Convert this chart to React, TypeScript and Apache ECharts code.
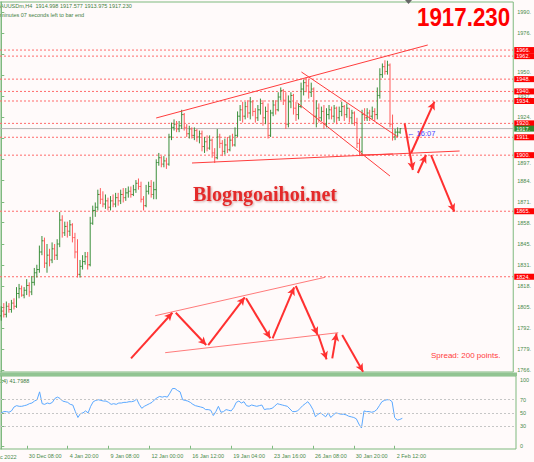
import React, { useEffect, useRef } from 'react';
import * as echarts from 'echarts';

// ---- OHLC bars (XAUUSD H4), index 0..157 ----
const opens = [
  1800, 1803, 1801, 1806, 1804, 1808, 1806, 1814, 1817, 1813,
  1816, 1819, 1815, 1821, 1827, 1829, 1840, 1847, 1833, 1838,
  1835, 1842, 1838, 1845, 1860, 1852, 1856, 1853, 1857, 1849,
  1840, 1826, 1831, 1834, 1837, 1832, 1858, 1866, 1868, 1876,
  1873, 1870, 1872, 1868, 1872, 1870, 1874, 1872, 1876, 1874,
  1877, 1878, 1876, 1879, 1883, 1881, 1873, 1869, 1878, 1881,
  1876, 1879, 1896, 1899, 1895, 1897, 1895, 1912, 1918, 1920,
  1917, 1919, 1926, 1918, 1914, 1917, 1913, 1916, 1912, 1914,
  1906, 1909, 1905, 1910, 1902, 1899, 1912, 1908, 1903, 1907,
  1904, 1910, 1907, 1913, 1925, 1929, 1925, 1931, 1927, 1934,
  1928, 1924, 1929, 1933, 1924, 1928, 1913, 1927, 1932, 1929,
  1937, 1941, 1935, 1920, 1934, 1938, 1930, 1926, 1931, 1942,
  1946, 1944, 1940, 1942, 1925, 1930, 1924, 1928, 1920, 1926,
  1929, 1925, 1930, 1924, 1928, 1931, 1926, 1930, 1924, 1927,
  1921, 1908, 1903, 1926, 1924, 1927, 1925, 1928, 1926, 1938,
  1951, 1956, 1953, 1957, 1920, 1912, 1915, 1914.998,
];
const highs = [
  1806, 1808, 1809, 1808, 1810, 1811, 1818, 1820, 1819, 1818,
  1823, 1821, 1825, 1830, 1832, 1844, 1850, 1849, 1845, 1842,
  1846, 1845, 1848, 1865, 1863, 1859, 1859, 1860, 1858, 1852,
  1848, 1835, 1838, 1840, 1840, 1862, 1869, 1871, 1879, 1880,
  1878, 1876, 1874, 1875, 1876, 1877, 1877, 1879, 1880, 1880,
  1881, 1881, 1882, 1885, 1886, 1884, 1875, 1882, 1884, 1885,
  1884, 1898, 1902, 1900, 1900, 1899, 1914, 1921, 1923, 1922,
  1922, 1929, 1927, 1920, 1919, 1918, 1918, 1917, 1916, 1916,
  1912, 1913, 1913, 1911, 1905, 1917, 1914, 1910, 1911, 1912,
  1913, 1914, 1918, 1928, 1932, 1934, 1934, 1935, 1937, 1935,
  1930, 1932, 1936, 1935, 1931, 1933, 1929, 1935, 1935, 1940,
  1943, 1942, 1940, 1938, 1940, 1939, 1934, 1933, 1946, 1948,
  1949.5, 1948, 1946, 1943, 1935, 1933, 1931, 1932, 1930, 1932,
  1931, 1932, 1931, 1931, 1934, 1932, 1933, 1930, 1929, 1928,
  1924, 1911, 1929, 1930, 1930, 1929, 1931, 1930, 1943, 1955,
  1958, 1960, 1959.7, 1958, 1926, 1917, 1918, 1917.577,
];
const lows = [
  1797, 1799, 1799, 1802, 1802, 1804, 1805, 1811, 1812, 1811,
  1813, 1812, 1813, 1819, 1824, 1827, 1838, 1830, 1827, 1831,
  1833, 1835, 1835, 1843, 1849, 1850, 1849, 1850, 1846, 1836,
  1824, 1824, 1829, 1832, 1829, 1831, 1857, 1862, 1866, 1870,
  1868, 1867, 1866, 1866, 1868, 1868, 1869, 1870, 1871, 1872,
  1874, 1874, 1875, 1877, 1879, 1871, 1866, 1868, 1876, 1874,
  1873, 1873, 1894, 1893, 1893, 1892, 1894, 1910, 1916, 1915,
  1915, 1917, 1916, 1912, 1911, 1911, 1910, 1909, 1908, 1903,
  1902, 1903, 1904, 1899, 1895.7, 1898, 1905, 1900, 1901, 1902,
  1903, 1906, 1906, 1912, 1922, 1921, 1923, 1924, 1923, 1925,
  1921, 1922, 1926, 1919, 1920, 1911, 1912, 1925, 1926, 1928,
  1935, 1932, 1917, 1918, 1930, 1926, 1922, 1923, 1930, 1938,
  1940, 1936, 1937, 1920, 1918, 1921, 1922, 1917, 1918, 1923,
  1923, 1921, 1920, 1922, 1925, 1922, 1924, 1921, 1920, 1919,
  1905, 1900, 1900, 1922, 1922, 1922, 1923, 1922, 1923, 1936,
  1949, 1951, 1951, 1918, 1909.7, 1910, 1912, 1913.975,
];
const closes = [
  1803, 1801, 1806, 1804, 1808, 1806, 1814, 1817, 1813, 1816,
  1819, 1815, 1821, 1827, 1829, 1840, 1847, 1833, 1838, 1835,
  1842, 1838, 1845, 1860, 1852, 1856, 1853, 1857, 1849, 1840,
  1826, 1831, 1834, 1837, 1832, 1858, 1866, 1868, 1876, 1873,
  1870, 1872, 1868, 1872, 1870, 1874, 1872, 1876, 1874, 1877,
  1878, 1876, 1879, 1883, 1881, 1873, 1869, 1878, 1881, 1876,
  1879, 1896, 1899, 1895, 1897, 1895, 1912, 1918, 1920, 1917,
  1919, 1926, 1918, 1914, 1917, 1913, 1916, 1912, 1914, 1906,
  1909, 1905, 1910, 1902, 1899, 1912, 1908, 1903, 1907, 1904,
  1910, 1907, 1913, 1925, 1929, 1925, 1931, 1927, 1934, 1928,
  1924, 1929, 1933, 1924, 1928, 1913, 1927, 1932, 1929, 1937,
  1941, 1935, 1920, 1934, 1938, 1930, 1926, 1931, 1942, 1946,
  1944, 1940, 1942, 1925, 1930, 1924, 1928, 1920, 1926, 1929,
  1925, 1930, 1924, 1928, 1931, 1926, 1930, 1924, 1927, 1921,
  1908, 1903, 1926, 1924, 1927, 1925, 1928, 1926, 1938, 1951,
  1956, 1953, 1957, 1920, 1912, 1915, 1915, 1917.23,
];

// ---- RSI(14) ----
const rsiValues = [
  50, 52, 52, 51, 53, 59, 61, 60, 60, 61,
  62, 64, 65, 68, 70, 82, 64, 63, 65, 64,
  66, 72, 74, 72, 68, 67, 66, 63, 62, 52,
  43, 49, 50, 53, 50, 60, 67, 69, 70, 69,
  68, 68, 66, 63, 64, 63, 65, 65, 66, 66,
  67, 67, 68, 71, 63, 57, 60, 62, 64, 66,
  70, 73, 75, 74, 75, 74, 80, 87, 87, 84,
  82, 70, 69, 68, 66, 63, 61, 60, 59, 58,
  55, 55, 54, 46, 52, 60, 51, 52, 55, 54,
  53, 58, 66, 68, 65, 67, 61, 60, 62, 61,
  60, 61, 62, 55, 56, 56, 57, 60, 64, 63,
  62, 61, 60, 56, 52, 52, 53, 57, 61, 64,
  67, 62, 55, 44, 48, 50, 47, 44, 50, 43,
  47, 50, 49, 48, 48, 47, 45, 44, 43, 41,
  33, 27, 53, 52, 52, 51, 52, 55, 61, 67,
  69, 70, 70, 67, 43, 39, 40, 41.8,
];

// ---- axes ----
const priceTicks = [
  1766.0, 1779.2, 1792.4, 1805.5, 1818.7, 1831.9, 1845.1, 1858.3, 1871.4,
  1884.6, 1897.8, 1911.0, 1924.2, 1937.4, 1950.5, 1963.7, 1976.9, 1990.1,
];
// tick labels left visible (1911 and 1963 sit fully under the red level tags)
const priceTickLabels = [
  1766.0, 1779.2, 1792.4, 1805.5, 1818.7, 1831.9, 1845.1, 1858.3, 1871.4,
  1884.6, 1897.8, 1924.2, 1937.4, 1950.5, 1976.9, 1990.1,
];
// labels that peek out above / below a neighbouring level tag
const tickLabelsNudgedUp = [1950.5];
const tickLabelsNudgedDown = [1897.8];
const rsiTicks = [0, 30, 50, 70, 100];
const rsiLevels = [30, 50, 70];
const dateTickIdx = [10, 26, 42, 58, 74, 90, 106, 122, 138, 154];
const dateLabels = [
  '30 Dec 08:00', '4 Jan 20:00', '9 Jan 08:00', '12 Jan 00:00', '16 Jan 12:00',
  '19 Jan 04:00', '23 Jan 16:00', '26 Jan 08:00', '30 Jan 20:00', '2 Feb 12:00',
];

// ---- horizontal levels ----
const levelPrices = [1966.4, 1962.6, 1948.2, 1940.5, 1934.5, 1920.5, 1911.8, 1900.6, 1865.5, 1824.5];
const levelLabels = ['1966.', '1962.', '1948.', '1940.', '1934.', '1920.', '1911.', '1900.', '1865.', '1824.'];
const currentPrice = 1917.23;
const currentLabel = '1917.';

// ---- drawn objects, in [bar index, price] ----
const trendLines = [
  [[60.97, 1923.87], [167.86, 1969.56]],
  [[75.07, 1895.7], [180.39, 1903.21]],
  [[141.24, 1900.7], [154.16, 1901.33]],
  [[118.14, 1952.66], [156.12, 1911.97]],
  [[116.57, 1933.26], [152.98, 1887.56]],
];
const channelLines = [
  [[60.58, 1800.11], [127.41, 1824.14]],
  [[64.5, 1776.95], [132.62, 1789.47]],
];
const arrowLines = [
  [[51.07, 1773.44], [67.36, 1801.98]],
  [[68.69, 1801.98], [80.67, 1781.76]],
  [[81.45, 1781.76], [95.82, 1811.62]],
  [[96.33, 1811.0], [105.88, 1785.96]],
  [[106.78, 1785.96], [115.28, 1817.88]],
  [[115.91, 1818.7], [124.52, 1788.02]],
  [[124.79, 1788.02], [128.04, 1772.81]],
  [[130.27, 1773.44], [131.96, 1789.09]],
  [[134.19, 1788.02], [142.41, 1765.05]],
  [[158.74, 1920.55], [161.99, 1891.31]],
  [[163.95, 1889.44], [167.2, 1900.7]],
  [[161.32, 1901.96], [170.49, 1934.07]],
  [[169.15, 1900.7], [178.32, 1865.21]],
];

const X_MIN = -0.5;
const X_MAX = 201.5;
const UP = '#3b8e3b';
const DOWN = '#ff5a5a';
const AXIS_GREEN = '#7fb97f';
const LABEL_GREEN = '#4a8a4a';
const LEVEL_RED = '#ff6a6a';
const FONT = 'Liberation Sans, Arial, sans-serif';

function hLineSeries(name: string, price: number, text: string, color: string, dash: any, tagBg: string) {
  return {
    type: 'line',
    name,
    xAxisIndex: 0,
    yAxisIndex: 0,
    data: [[X_MIN, price], [X_MAX, price]],
    showSymbol: false,
    symbol: 'none',
    silent: true,
    z: 1,
    color,
    lineStyle: { color, type: dash, width: 1 },
    endLabel: {
      show: true,
      formatter: text,
      distance: 1,
      color: '#ffffff',
      backgroundColor: tagBg,
      fontSize: 5.5,
      fontFamily: FONT,
      lineHeight: 5.5,
      padding: [0.25, 5, 0.25, 2],
    },
  };
}

function buildOption() {
  const ohlc = opens.map((o, i) => [i, o, highs[i], lows[i], closes[i]]);
  const rsiData = rsiValues.map((v, i) => [i, v]);

  const renderItem = (params: any, api: any) => {
    const x = api.value(0);
    const o = api.value(1);
    const h = api.value(2);
    const l = api.value(3);
    const c = api.value(4);
    const pH = api.coord([x, h]);
    const pL = api.coord([x, l]);
    const pO = api.coord([x, o]);
    const pC = api.coord([x, c]);
    const color = c >= o ? UP : DOWN;
    const st = { stroke: color, lineWidth: 1 };
    return {
      type: 'group',
      children: [
        { type: 'line', shape: { x1: pH[0], y1: pH[1], x2: pL[0], y2: pL[1] }, style: st },
        { type: 'line', shape: { x1: pO[0] - 1.2, y1: pO[1], x2: pO[0], y2: pO[1] }, style: st },
        { type: 'line', shape: { x1: pC[0], y1: pC[1], x2: pC[0] + 1.2, y2: pC[1] }, style: st },
      ],
    };
  };

  const seg = (s: number[][]) => [{ coord: s[0] }, { coord: s[1] }];

  const levelSeries = levelPrices.map((p, k) =>
    hLineSeries('level ' + levelLabels[k], p, levelLabels[k], LEVEL_RED, [2, 2], '#ff0000'),
  );
  const currentSeries = hLineSeries('bid', currentPrice, currentLabel, '#b4b4b4', 'solid', '#2f8a2f');

  const near = (a: number, b: number) => Math.abs(a - b) < 0.05;
  const priceLabel = (v: number) => {
    const t = Math.floor(v + 1e-6) + '.';
    if (tickLabelsNudgedUp.some((u) => near(u, v))) return '{up|' + t + '}';
    if (tickLabelsNudgedDown.some((u) => near(u, v))) return '{down|' + t + '}';
    return t;
  };

  return {
    animation: false,
    backgroundColor: '#fffafa',
    textStyle: { fontFamily: FONT },
    grid: [
      { left: 0, top: 2, width: 516, height: 370, show: true, borderColor: AXIS_GREEN, borderWidth: 1, backgroundColor: 'transparent' },
      { left: 0, top: 376, width: 516, height: 73, show: true, borderColor: AXIS_GREEN, borderWidth: 1, backgroundColor: 'transparent' },
    ],
    xAxis: [
      { type: 'value', gridIndex: 0, min: X_MIN, max: X_MAX, show: false },
      {
        type: 'value',
        gridIndex: 1,
        min: X_MIN,
        max: X_MAX,
        axisLine: { show: false },
        splitLine: { show: false },
        axisTick: { show: true, length: 3, customValues: dateTickIdx, lineStyle: { color: AXIS_GREEN } },
        axisLabel: {
          customValues: dateTickIdx,
          formatter: (v: number) => {
            const k = dateTickIdx.indexOf(Math.round(v));
            return k >= 0 ? dateLabels[k] : '';
          },
          align: 'left',
          fontSize: 5.5,
          color: LABEL_GREEN,
          margin: 4,
          padding: [0, 0, 0, 2],
        },
      },
    ],
    yAxis: [
      {
        type: 'value',
        gridIndex: 0,
        position: 'right',
        min: 1764.87,
        max: 1996.48,
        axisLine: { show: true, lineStyle: { color: AXIS_GREEN } },
        axisTick: { show: true, length: 3, customValues: priceTicks, lineStyle: { color: AXIS_GREEN } },
        axisLabel: {
          customValues: priceTickLabels,
          formatter: priceLabel,
          fontSize: 5.5,
          color: LABEL_GREEN,
          margin: 4,
          rich: {
            up: { fontSize: 5.5, color: LABEL_GREEN, fontFamily: FONT, padding: [0, 0, 6, 0] },
            down: { fontSize: 5.5, color: LABEL_GREEN, fontFamily: FONT, padding: [6, 0, 0, 0] },
          },
        },
        splitLine: { show: false },
      },
      {
        type: 'value',
        gridIndex: 1,
        position: 'right',
        min: -4.9,
        max: 106.1,
        axisLine: { show: true, lineStyle: { color: AXIS_GREEN } },
        axisTick: { show: true, length: 3, customValues: rsiTicks, lineStyle: { color: AXIS_GREEN } },
        axisLabel: { customValues: rsiTicks, fontSize: 5.5, color: LABEL_GREEN, margin: 4 },
        splitLine: { show: false },
      },
    ],
    series: [
      ...levelSeries,
      currentSeries,
      {
        type: 'custom',
        name: 'XAUUSDm,H4',
        xAxisIndex: 0,
        yAxisIndex: 0,
        data: ohlc,
        encode: { x: 0, y: [1, 2, 3, 4] },
        renderItem,
        silent: true,
        z: 3,
      },
      {
        type: 'line',
        name: 'trend',
        color: '#ff3c3c',
        xAxisIndex: 0,
        yAxisIndex: 0,
        data: [],
        z: 4,
        silent: true,
        markLine: {
          silent: true,
          symbol: ['none', 'none'],
          label: { show: false },
          lineStyle: { color: '#ff3c3c', width: 1, type: 'solid', opacity: 1 },
          data: trendLines.map(seg),
        },
      },
      {
        type: 'line',
        name: 'channel',
        color: '#ff7a7a',
        xAxisIndex: 0,
        yAxisIndex: 0,
        data: [],
        z: 4,
        silent: true,
        markLine: {
          silent: true,
          symbol: ['none', 'none'],
          label: { show: false },
          lineStyle: { color: '#ff7a7a', width: 1, type: 'solid', opacity: 1 },
          data: channelLines.map(seg),
        },
      },
      {
        type: 'line',
        name: 'arrows',
        color: '#ff3030',
        xAxisIndex: 0,
        yAxisIndex: 0,
        data: [],
        z: 5,
        silent: true,
        markLine: {
          silent: true,
          symbol: ['none', 'arrow'],
          symbolSize: [6, 8],
          label: { show: false },
          lineStyle: { color: '#ff3030', width: 2, type: 'solid', opacity: 1 },
          data: arrowLines.map(seg),
        },
      },
      {
        type: 'line',
        name: 'RSI(14)',
        color: '#5aa8ff',
        xAxisIndex: 1,
        yAxisIndex: 1,
        data: rsiData,
        showSymbol: false,
        silent: true,
        lineStyle: { color: '#5aa8ff', width: 1 },
        markLine: {
          silent: true,
          symbol: ['none', 'none'],
          label: { show: false },
          lineStyle: { color: '#c6c6c6', type: [2, 2], width: 1, opacity: 1 },
          data: rsiLevels.map((v) => ({ yAxis: v })),
        },
      },
    ],
    graphic: [
      { type: 'rect', shape: { x: 0, y: 372.5, width: 517, height: 3.5 }, style: { fill: '#92c492' }, silent: true },
      { type: 'polygon', shape: { points: [[405, 0], [412, 0], [408.5, 4]] }, style: { fill: '#666666' }, silent: true },
      {
        type: 'text', x: 0, y: 3, silent: true,
        style: { text: 'AUUSDm,H4  1914.998 1917.577 1913.975 1917.230', fontSize: 5.5, fill: '#3f7f3f', fontFamily: FONT, textVerticalAlign: 'top' },
      },
      {
        type: 'text', x: 0, y: 12, silent: true,
        style: { text: 'minutes 07 seconds left to bar end', fontSize: 5.5, fill: '#3f7f3f', fontFamily: FONT, textVerticalAlign: 'top' },
      },
      {
        type: 'text', x: 417, y: 16.7, scaleX: 0.86, silent: true,
        style: { text: '1917.230', fontSize: 26, fontWeight: 'bold', fill: '#ff0000', fontFamily: FONT, textVerticalAlign: 'middle' },
      },
      {
        type: 'text', x: 193, y: 194, silent: true, z: 10,
        style: {
          text: 'Blogngoaihoi.net', fontSize: 20, fontWeight: 'bold', fill: '#e42a2a',
          fontFamily: 'Liberation Serif, Times New Roman, serif', textVerticalAlign: 'middle',
          textShadowColor: 'rgba(110,0,0,0.35)', textShadowBlur: 2, textShadowOffsetX: 1, textShadowOffsetY: 1,
        },
      },
      {
        type: 'text', x: 407, y: 133.5, silent: true, z: 10,
        style: { text: '\u2190 16:07', fontSize: 7.5, fill: '#4a4aff', fontFamily: FONT, textVerticalAlign: 'middle' },
      },
      {
        type: 'text', x: 431, y: 355, silent: true,
        style: { text: 'Spread: 200 points.', fontSize: 8, fill: '#ff3c3c', fontFamily: FONT, textVerticalAlign: 'middle' },
      },
      {
        type: 'text', x: 0, y: 380.5, silent: true,
        style: { text: '14) 41.7988', fontSize: 5.5, fill: '#3f7f3f', fontFamily: FONT, textVerticalAlign: 'middle' },
      },
      {
        type: 'text', x: 0, y: 456.5, silent: true,
        style: { text: 'c 2022', fontSize: 5.5, fill: LABEL_GREEN, fontFamily: FONT, textVerticalAlign: 'middle' },
      },
    ],
  };
}

export default function App() {
  const ref = useRef<HTMLDivElement>(null);
  useEffect(() => {
    if (!ref.current) return;
    const chart = echarts.init(ref.current, undefined, { renderer: 'svg' });
    chart.setOption(buildOption() as any);
    return () => {
      chart.dispose();
    };
  }, []);
  return (
    <div
      ref={ref}
      style={{ position: 'fixed', left: 0, top: 0, width: 534, height: 462, background: '#fffafa' }}
    />
  );
}
